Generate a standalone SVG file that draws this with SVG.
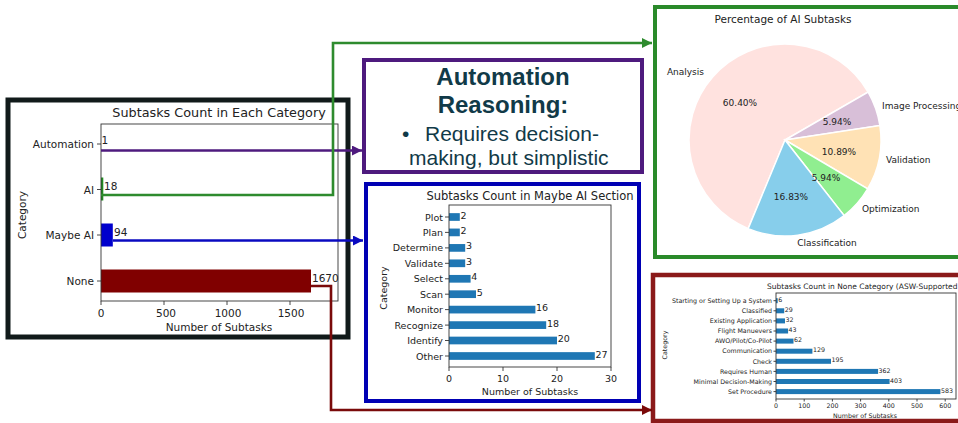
<svg xmlns="http://www.w3.org/2000/svg" width="958" height="423" viewBox="0 0 958 423">
  <style>
    .mpl { font-family: "DejaVu Sans", Verdana, sans-serif; fill: #222; }
    .t12 { font-size: 12.8px; }
    .t105 { font-size: 10.5px; }
    .t95 { font-size: 9.5px; }
    .t11 { font-size: 11.5px; }
    .t85 { font-size: 9px; }
    .t75 { font-size: 7.5px; }
    .t63 { font-size: 6.3px; }
    .end { text-anchor: end; }
    .mid { text-anchor: middle; }
    .axes { fill: none; stroke: #333; stroke-width: 0.9; }
    .tick { stroke: #333; stroke-width: 0.9; }
    .bar { fill: #1f77b4; }
    .slice { stroke: #fff; stroke-width: 1.5; }
    .conn { fill: none; stroke-width: 2.6; }
    .note { font-family: "Liberation Sans", Arial, sans-serif; fill: #113a48; }
  </style>
  <defs>
    <marker id="ah-purple" markerUnits="userSpaceOnUse" markerWidth="11" markerHeight="10" refX="10" refY="5" orient="auto">
      <path d="M0,0 L10,5 L0,10 z" fill="#4e1a7e"/>
    </marker>
    <marker id="ah-green" markerUnits="userSpaceOnUse" markerWidth="11" markerHeight="10" refX="10" refY="5" orient="auto">
      <path d="M0,0 L10,5 L0,10 z" fill="#2e8b2e"/>
    </marker>
    <marker id="ah-blue" markerUnits="userSpaceOnUse" markerWidth="11" markerHeight="10" refX="10" refY="5" orient="auto">
      <path d="M0,0 L10,5 L0,10 z" fill="#0a0ac0"/>
    </marker>
    <marker id="ah-maroon" markerUnits="userSpaceOnUse" markerWidth="11" markerHeight="10" refX="10" refY="5" orient="auto">
      <path d="M0,0 L10,5 L0,10 z" fill="#7a0a0a"/>
    </marker>
  </defs>

  <rect width="958" height="423" fill="#fff"/>

  <!-- Overall category bar chart -->
  <g id="category-chart">
    <rect x="8" y="100" width="340" height="237" fill="#fff" stroke="#111a1a" stroke-width="5"/>
    <text class="mpl t12 mid" x="219" y="117">Subtasks Count in Each Category</text>
    <rect x="101" y="177.5" width="2.3" height="23" fill="#228b22"/>
    <rect x="101" y="223.5" width="11.8" height="23" fill="#0000cd"/>
    <rect x="101" y="269.5" width="210" height="23" fill="#800000"/>
    <rect class="axes" x="101" y="124" width="237" height="177"/>
    <g class="tick">
      <line x1="97" y1="144" x2="101" y2="144"/>
      <line x1="97" y1="189.5" x2="101" y2="189.5"/>
      <line x1="97" y1="235" x2="101" y2="235"/>
      <line x1="97" y1="281" x2="101" y2="281"/>
      <line x1="101" y1="301" x2="101" y2="305"/>
      <line x1="164" y1="301" x2="164" y2="305"/>
      <line x1="227" y1="301" x2="227" y2="305"/>
      <line x1="290" y1="301" x2="290" y2="305"/>
    </g>
    <g class="mpl t105">
      <text class="end" x="94" y="148">Automation</text>
      <text class="end" x="94" y="193.5">AI</text>
      <text class="end" x="94" y="239">Maybe AI</text>
      <text class="end" x="94" y="285">None</text>
      <text class="mid" x="101" y="317">0</text>
      <text class="mid" x="166" y="317">500</text>
      <text class="mid" x="228" y="317">1000</text>
      <text class="mid" x="291" y="317">1500</text>
      <text x="101.5" y="144">1</text>
      <text x="104" y="190">18</text>
      <text x="114" y="236">94</text>
      <text x="312" y="282">1670</text>
      <text class="mid" x="219" y="331">Number of Subtasks</text>
      <text class="mid" x="26" y="215" transform="rotate(-90 26 215)">Category</text>
    </g>
  </g>

  <!-- Automation reasoning note -->
  <g id="automation-note">
    <rect x="364" y="60" width="278" height="112" fill="#fff" stroke="#4e1a7e" stroke-width="4"/>
    <text class="note mid" x="503" y="85" font-size="24" font-weight="bold">Automation</text>
    <text class="note mid" x="503" y="113" font-size="24" font-weight="bold">Reasoning:</text>
    <text class="note" x="402" y="141" font-size="21">•</text>
    <text class="note" x="425" y="141" font-size="21">Requires decision-</text>
    <text class="note" x="409" y="165" font-size="21">making, but simplistic</text>
  </g>

  <!-- Maybe AI breakdown -->
  <g id="maybe-ai-chart">
    <rect x="366" y="184" width="273" height="217" fill="#fff" stroke="#0000b4" stroke-width="4"/>
    <text class="mpl t11 mid" x="530" y="200">Subtasks Count in Maybe AI Section</text>
    <g>
      <rect class="bar" x="449" y="213.15" width="10.8" height="7.7"/>
      <rect class="bar" x="449" y="228.55" width="10.8" height="7.7"/>
      <rect class="bar" x="449" y="244.05" width="16.2" height="7.7"/>
      <rect class="bar" x="449" y="259.45" width="16.2" height="7.7"/>
      <rect class="bar" x="449" y="274.95" width="21.6" height="7.7"/>
      <rect class="bar" x="449" y="290.35" width="27" height="7.7"/>
      <rect class="bar" x="449" y="305.75" width="86.4" height="7.7"/>
      <rect class="bar" x="449" y="321.25" width="97.2" height="7.7"/>
      <rect class="bar" x="449" y="336.65" width="108" height="7.7"/>
      <rect class="bar" x="449" y="352.15" width="145.8" height="7.7"/>
    </g>
    <rect class="axes" x="449" y="205" width="162" height="162"/>
    <g class="tick">
      <line x1="445" y1="217" x2="449" y2="217"/>
      <line x1="445" y1="232.4" x2="449" y2="232.4"/>
      <line x1="445" y1="247.9" x2="449" y2="247.9"/>
      <line x1="445" y1="263.3" x2="449" y2="263.3"/>
      <line x1="445" y1="278.8" x2="449" y2="278.8"/>
      <line x1="445" y1="294.2" x2="449" y2="294.2"/>
      <line x1="445" y1="309.6" x2="449" y2="309.6"/>
      <line x1="445" y1="325.1" x2="449" y2="325.1"/>
      <line x1="445" y1="340.5" x2="449" y2="340.5"/>
      <line x1="445" y1="356" x2="449" y2="356"/>
      <line x1="449" y1="367" x2="449" y2="371"/>
      <line x1="503" y1="367" x2="503" y2="371"/>
      <line x1="557" y1="367" x2="557" y2="371"/>
      <line x1="611" y1="367" x2="611" y2="371"/>
    </g>
    <g class="mpl t95">
      <text class="end" x="443" y="220.5">Plot</text>
      <text class="end" x="443" y="235.9">Plan</text>
      <text class="end" x="443" y="251.4">Determine</text>
      <text class="end" x="443" y="266.8">Validate</text>
      <text class="end" x="443" y="282.3">Select</text>
      <text class="end" x="443" y="297.7">Scan</text>
      <text class="end" x="443" y="313.1">Monitor</text>
      <text class="end" x="443" y="328.6">Recognize</text>
      <text class="end" x="443" y="344">Identify</text>
      <text class="end" x="443" y="359.5">Other</text>
      <text x="460.5" y="218.5">2</text>
      <text x="460.5" y="233.9">2</text>
      <text x="466" y="249.4">3</text>
      <text x="466" y="264.8">3</text>
      <text x="471.3" y="280.3">4</text>
      <text x="476.7" y="295.7">5</text>
      <text x="536" y="311.1">16</text>
      <text x="547" y="326.6">18</text>
      <text x="557.7" y="342">20</text>
      <text x="595.5" y="357.5">27</text>
      <text class="mid" x="449" y="382">0</text>
      <text class="mid" x="503" y="382">10</text>
      <text class="mid" x="557" y="382">20</text>
      <text class="mid" x="611" y="382">30</text>
      <text class="mid" x="530" y="395">Number of Subtasks</text>
      <text class="mid" x="386.5" y="288" transform="rotate(-90 386.5 288)">Category</text>
    </g>
  </g>

  <!-- AI subtasks pie -->
  <g id="ai-pie">
    <rect x="655" y="7" width="310" height="250" fill="#fff" stroke="#2a8a2a" stroke-width="4"/>
    <text class="mpl t105 mid" x="783" y="23">Percentage of AI Subtasks</text>
    <path class="slice" fill="#ffe2df" d="M785,140 L748.18,228.66 A96,96 0 1 1 868.14,92 Z"/>
    <path class="slice" fill="#d8bfd8" d="M785,140 L868.14,92 A96,96 0 0 1 879.92,125.61 Z"/>
    <path class="slice" fill="#ffe2b5" d="M785,140 L879.92,125.61 A96,96 0 0 1 867.65,188.84 Z"/>
    <path class="slice" fill="#90ee90" d="M785,140 L867.65,188.84 A96,96 0 0 1 844.15,215.61 Z"/>
    <path class="slice" fill="#87ceeb" d="M785,140 L844.15,215.61 A96,96 0 0 1 748.18,228.66 Z"/>
    <g class="mpl t85">
      <text class="end" x="704" y="75">Analysis</text>
      <text x="882" y="109">Image Processing</text>
      <text x="886" y="163">Validation</text>
      <text x="862" y="212">Optimization</text>
      <text class="mid" x="827" y="246">Classification</text>
      <text class="mid" x="740" y="106">60.40%</text>
      <text class="mid" x="837" y="125">5.94%</text>
      <text class="mid" x="839" y="155">10.89%</text>
      <text class="mid" x="826" y="181">5.94%</text>
      <text class="mid" x="791" y="200">16.83%</text>
    </g>
  </g>

  <!-- None category breakdown -->
  <g id="none-chart">
    <rect x="653" y="275" width="312" height="146" fill="#fff" stroke="#8b1a1a" stroke-width="4.5"/>
    <text class="mpl t75" x="767" y="289">Subtasks Count in None Category (ASW-Supported</text>
    <g>
      <rect class="bar" x="776" y="298.2" width="1.7" height="5"/>
      <rect class="bar" x="776" y="308.3" width="8.2" height="5"/>
      <rect class="bar" x="776" y="318.4" width="9" height="5"/>
      <rect class="bar" x="776" y="328.5" width="12.1" height="5"/>
      <rect class="bar" x="776" y="338.6" width="17.5" height="5"/>
      <rect class="bar" x="776" y="348.7" width="36.4" height="5"/>
      <rect class="bar" x="776" y="358.8" width="55" height="5"/>
      <rect class="bar" x="776" y="368.9" width="102.1" height="5"/>
      <rect class="bar" x="776" y="379" width="113.6" height="5"/>
      <rect class="bar" x="776" y="389.1" width="164.4" height="5"/>
    </g>
    <rect class="axes" x="776" y="293" width="180" height="106"/>
    <g class="tick">
      <line x1="773.5" y1="300.7" x2="776" y2="300.7"/>
      <line x1="773.5" y1="310.8" x2="776" y2="310.8"/>
      <line x1="773.5" y1="320.9" x2="776" y2="320.9"/>
      <line x1="773.5" y1="331" x2="776" y2="331"/>
      <line x1="773.5" y1="341.1" x2="776" y2="341.1"/>
      <line x1="773.5" y1="351.2" x2="776" y2="351.2"/>
      <line x1="773.5" y1="361.3" x2="776" y2="361.3"/>
      <line x1="773.5" y1="371.4" x2="776" y2="371.4"/>
      <line x1="773.5" y1="381.5" x2="776" y2="381.5"/>
      <line x1="773.5" y1="391.6" x2="776" y2="391.6"/>
      <line x1="776" y1="399" x2="776" y2="401.5"/>
      <line x1="804.2" y1="399" x2="804.2" y2="401.5"/>
      <line x1="832.4" y1="399" x2="832.4" y2="401.5"/>
      <line x1="860.6" y1="399" x2="860.6" y2="401.5"/>
      <line x1="888.8" y1="399" x2="888.8" y2="401.5"/>
      <line x1="917" y1="399" x2="917" y2="401.5"/>
      <line x1="945.2" y1="399" x2="945.2" y2="401.5"/>
    </g>
    <g class="mpl t63">
      <text class="end" x="772" y="302.9">Starting or Setting Up a System</text>
      <text class="end" x="772" y="313">Classified</text>
      <text class="end" x="772" y="323.1">Existing Application</text>
      <text class="end" x="772" y="333.2">Flight Manuevers</text>
      <text class="end" x="772" y="343.3">AWO/Pilot/Co-Pilot</text>
      <text class="end" x="772" y="353.4">Communication</text>
      <text class="end" x="772" y="363.5">Check</text>
      <text class="end" x="772" y="373.6">Requires Human</text>
      <text class="end" x="772" y="383.7">Minimal Decision-Making</text>
      <text class="end" x="772" y="393.8">Set Procedure</text>
      <text x="778.2" y="301.8">6</text>
      <text x="784.7" y="311.9">29</text>
      <text x="785.5" y="322">32</text>
      <text x="788.6" y="332.1">43</text>
      <text x="794" y="342.2">62</text>
      <text x="812.9" y="352.3">129</text>
      <text x="831.5" y="362.4">195</text>
      <text x="878.6" y="372.5">362</text>
      <text x="890.1" y="382.6">403</text>
      <text x="940.9" y="392.7">583</text>
      <text class="mid" x="776" y="408">0</text>
      <text class="mid" x="804.2" y="408">100</text>
      <text class="mid" x="832.4" y="408">200</text>
      <text class="mid" x="860.6" y="408">300</text>
      <text class="mid" x="888.8" y="408">400</text>
      <text class="mid" x="917" y="408">500</text>
      <text class="mid" x="945.2" y="408">600</text>
      <text class="mid" x="865" y="418">Number of Subtasks</text>
      <text class="mid" x="667" y="345" transform="rotate(-90 667 345)">Category</text>
    </g>
  </g>

  <!-- Connectors from the overall chart to each breakdown -->
  <g id="connectors">
    <path class="conn" stroke="#4e1a7e" d="M101,150.5 H362" marker-end="url(#ah-purple)"/>
    <path class="conn" stroke="#2e8b2e" d="M101,195 H333 V43 H652" marker-end="url(#ah-green)"/>
    <path class="conn" stroke="#0a0ac0" d="M113,240.5 H363" marker-end="url(#ah-blue)"/>
    <path class="conn" stroke="#7a0a0a" d="M311,286 H331 V410 H652" marker-end="url(#ah-maroon)"/>
  </g>
</svg>
